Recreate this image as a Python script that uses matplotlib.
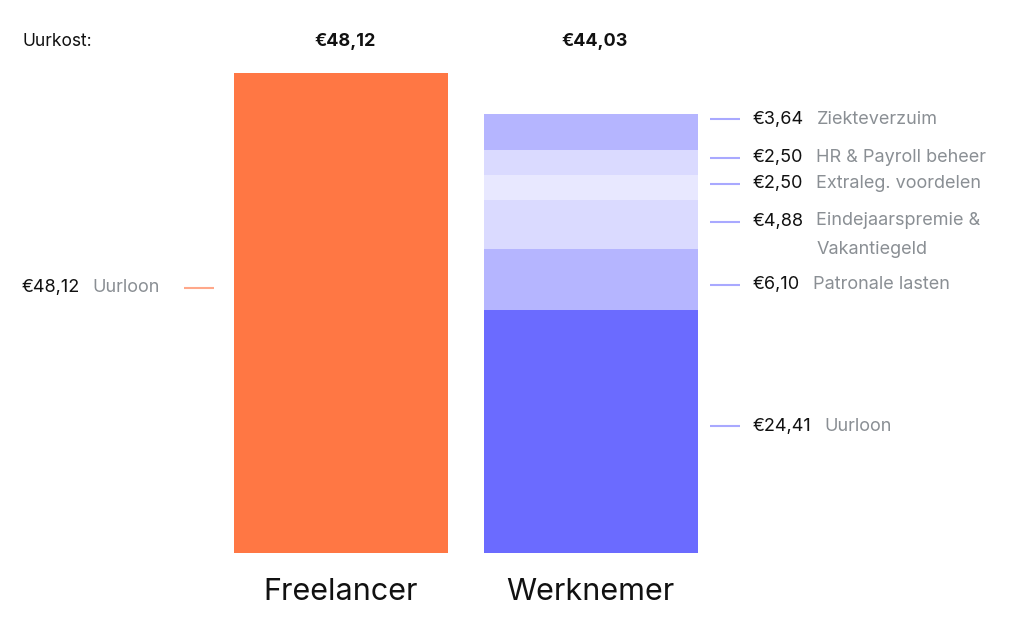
import matplotlib
matplotlib.use("Agg")
import matplotlib.pyplot as plt

plt.rcParams['font.family'] = ['Inter', 'DejaVu Sans']

categories = ["Freelancer", "Werknemer"]
totals = [48.12, 44.03]
total_labels = ["€48,12", "€44,03"]

freelancer_value = 48.12
freelancer_label = ("€48,12", "Uurloon")

# Werknemer components, bottom to top
comp_names = ["Uurloon", "Patronale lasten", "Eindejaarspremie &\nVakantiegeld",
              "Extraleg. voordelen", "HR & Payroll beheer", "Ziekteverzuim"]
comp_values = [24.41, 6.10, 4.88, 2.50, 2.50, 3.64]
comp_value_labels = ["€24,41", "€6,10", "€4,88", "€2,50", "€2,50", "€3,64"]
comp_colors = ["#6B6BFF", "#B5B5FF", "#DADAFF", "#E8E8FF", "#DADAFF", "#B5B5FF"]
# label anchor heights (data units), nudged apart for readability
comp_label_y = [12.7, 26.9, 33.2, 37.0, 39.6, 43.5]
freelancer_label_y = 26.6

W, H = 1025, 637
fig = plt.figure(figsize=(W / 100, H / 100), dpi=100)
ax = fig.add_axes([0, 84 / H, 1, 480 / H])
ax.set_ylim(0, 48.12)
ax.set_xlim(-341 / 249.5, (W - 341) / 249.5)
ax.axis("off")

bw = 214 / 249.5
ax.bar(0, freelancer_value, width=bw, color="#FF7744")
bottom = 0
for v, c in zip(comp_values, comp_colors):
    ax.bar(1, v, bottom=bottom, width=bw, color=c)
    bottom += v

def px2x(px):
    return (px - 341) / 249.5

# top labels
ytop = 48.12 + 31 / 9.975
ax.text(px2x(22), ytop, "Uurkost:", fontsize=12.5, color="#111111",
        ha="left", va="center", clip_on=False)
for i, lab in enumerate(total_labels):
    ax.text(i + 0.015, ytop, lab, fontsize=13, fontweight="bold", color="#111111",
            ha="center", va="center", clip_on=False)

# category labels
for i, cat in enumerate(categories):
    ax.text(i, -39 / 9.975, cat, fontsize=22, color="#111111",
            ha="center", va="center", clip_on=False)

# right labels
for name, vl, y in zip(comp_names, comp_value_labels, comp_label_y):
    ax.plot([px2x(710), px2x(740)], [y, y], color="#A9A9FF", lw=1.5,
            solid_capstyle="butt")
    t = ax.text(px2x(753), y, vl, fontsize=13, color="#111111",
                ha="left", va="center")
    if "\n" in name:
        ax.annotate(name, xy=(1, 1), xycoords=t, xytext=(9, 1),
                    textcoords="offset points", fontsize=13, color="#8A8F94",
                    ha="left", va="top", linespacing=1.95)
    else:
        ax.annotate(name, xy=(1, 0.5), xycoords=t, xytext=(9, 0),
                    textcoords="offset points", fontsize=13, color="#8A8F94",
                    ha="left", va="center")

# left label
ax.plot([px2x(184), px2x(214)], [freelancer_label_y] * 2, color="#FFA88A", lw=1.5,
        solid_capstyle="butt")
t = ax.text(px2x(22), freelancer_label_y, freelancer_label[0], fontsize=13,
            color="#111111", ha="left", va="center")
ax.annotate(freelancer_label[1], xy=(1, 0.5), xycoords=t, xytext=(9, 0),
            textcoords="offset points", fontsize=13, color="#8A8F94",
            ha="left", va="center")

fig.savefig("out.png", dpi=100)
